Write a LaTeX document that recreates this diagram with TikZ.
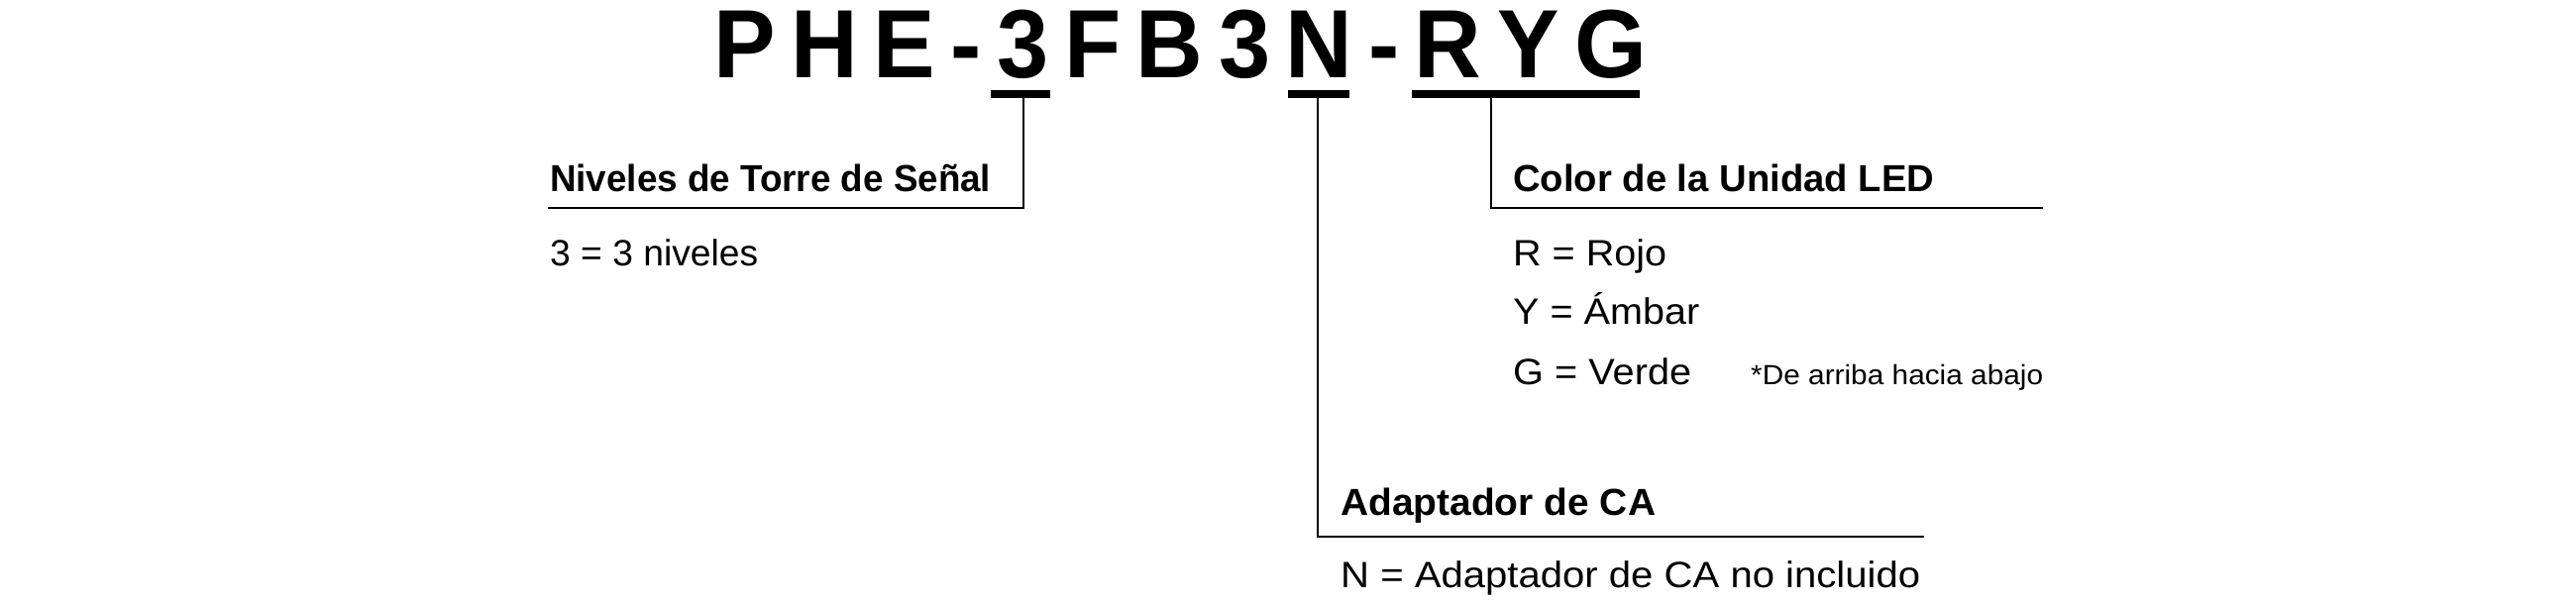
\documentclass[tikz,border=0pt]{standalone}
\usepackage{fontspec}
\setmainfont{Liberation Sans}
\newcommand{\fitw}[2]{\resizebox{#1}{\height}{#2}}
\begin{document}
\begin{tikzpicture}[x=1pt,y=-1pt,
  lbl/.style={anchor=base west,inner sep=0pt},
  bar/.style={fill=black,draw=none},
  lead/.style={line width=2pt}]
\useasboundingbox[fill=white] (0,0) rectangle (2600,610);
\node[lbl] (title) at (720,78) {\fitw{942pt}{\fontsize{98}{100}\selectfont\bfseries P\,H\,E\,-\,3\,F\,B\,3\,N\,-\,R\,Y\,G}};
\fill[bar] (1000,91) rectangle (1060,99);
\fill[bar] (1300,91) rectangle (1362,99);
\fill[bar] (1425,91) rectangle (1655,99);
\coordinate (b3) at (1033,99);
\coordinate (bN) at (1330,99);
\coordinate (bR) at (1505,99);
\coordinate (c3) at (1033,210);
\coordinate (e3) at (553,210);
\coordinate (cN) at (1330,542);
\coordinate (eN) at (1942,542);
\coordinate (cR) at (1505,210);
\coordinate (eR) at (2062,210);
\draw[lead] (b3) -- (c3) -- (e3);
\draw[lead] (bN) -- (cN) -- (eN);
\draw[lead] (bR) -- (cR) -- (eR);
\node[lbl] (h1) at (555,193) {\fitw{445pt}{\fontsize{38}{40}\selectfont\bfseries Niveles de Torre de Señal}};
\node[lbl] (t1) at (555,268) {\fitw{210pt}{\fontsize{37}{40}\selectfont 3 = 3 niveles}};
\node[lbl] (h2) at (1527,193) {\fitw{425pt}{\fontsize{38}{40}\selectfont\bfseries Color de la Unidad LED}};
\node[lbl] (r) at (1527,268) {\fitw{155pt}{\fontsize{37}{40}\selectfont R = Rojo}};
\node[lbl] (y) at (1527,327) {\fitw{188pt}{\fontsize{37}{40}\selectfont Y = Ámbar}};
\node[lbl] (g) at (1527,388) {\fitw{180pt}{\fontsize{37}{40}\selectfont G = Verde}};
\node[lbl] (note) at (1767,388) {\fitw{295pt}{\fontsize{28}{30}\selectfont *De arriba hacia abajo}};
\node[lbl] (h3) at (1353,520) {\fitw{318pt}{\fontsize{38}{40}\selectfont\bfseries Adaptador de CA}};
\node[lbl] (t3) at (1353,593) {\fitw{585pt}{\fontsize{37}{40}\selectfont N = Adaptador de CA no incluido}};
\end{tikzpicture}
\end{document}
